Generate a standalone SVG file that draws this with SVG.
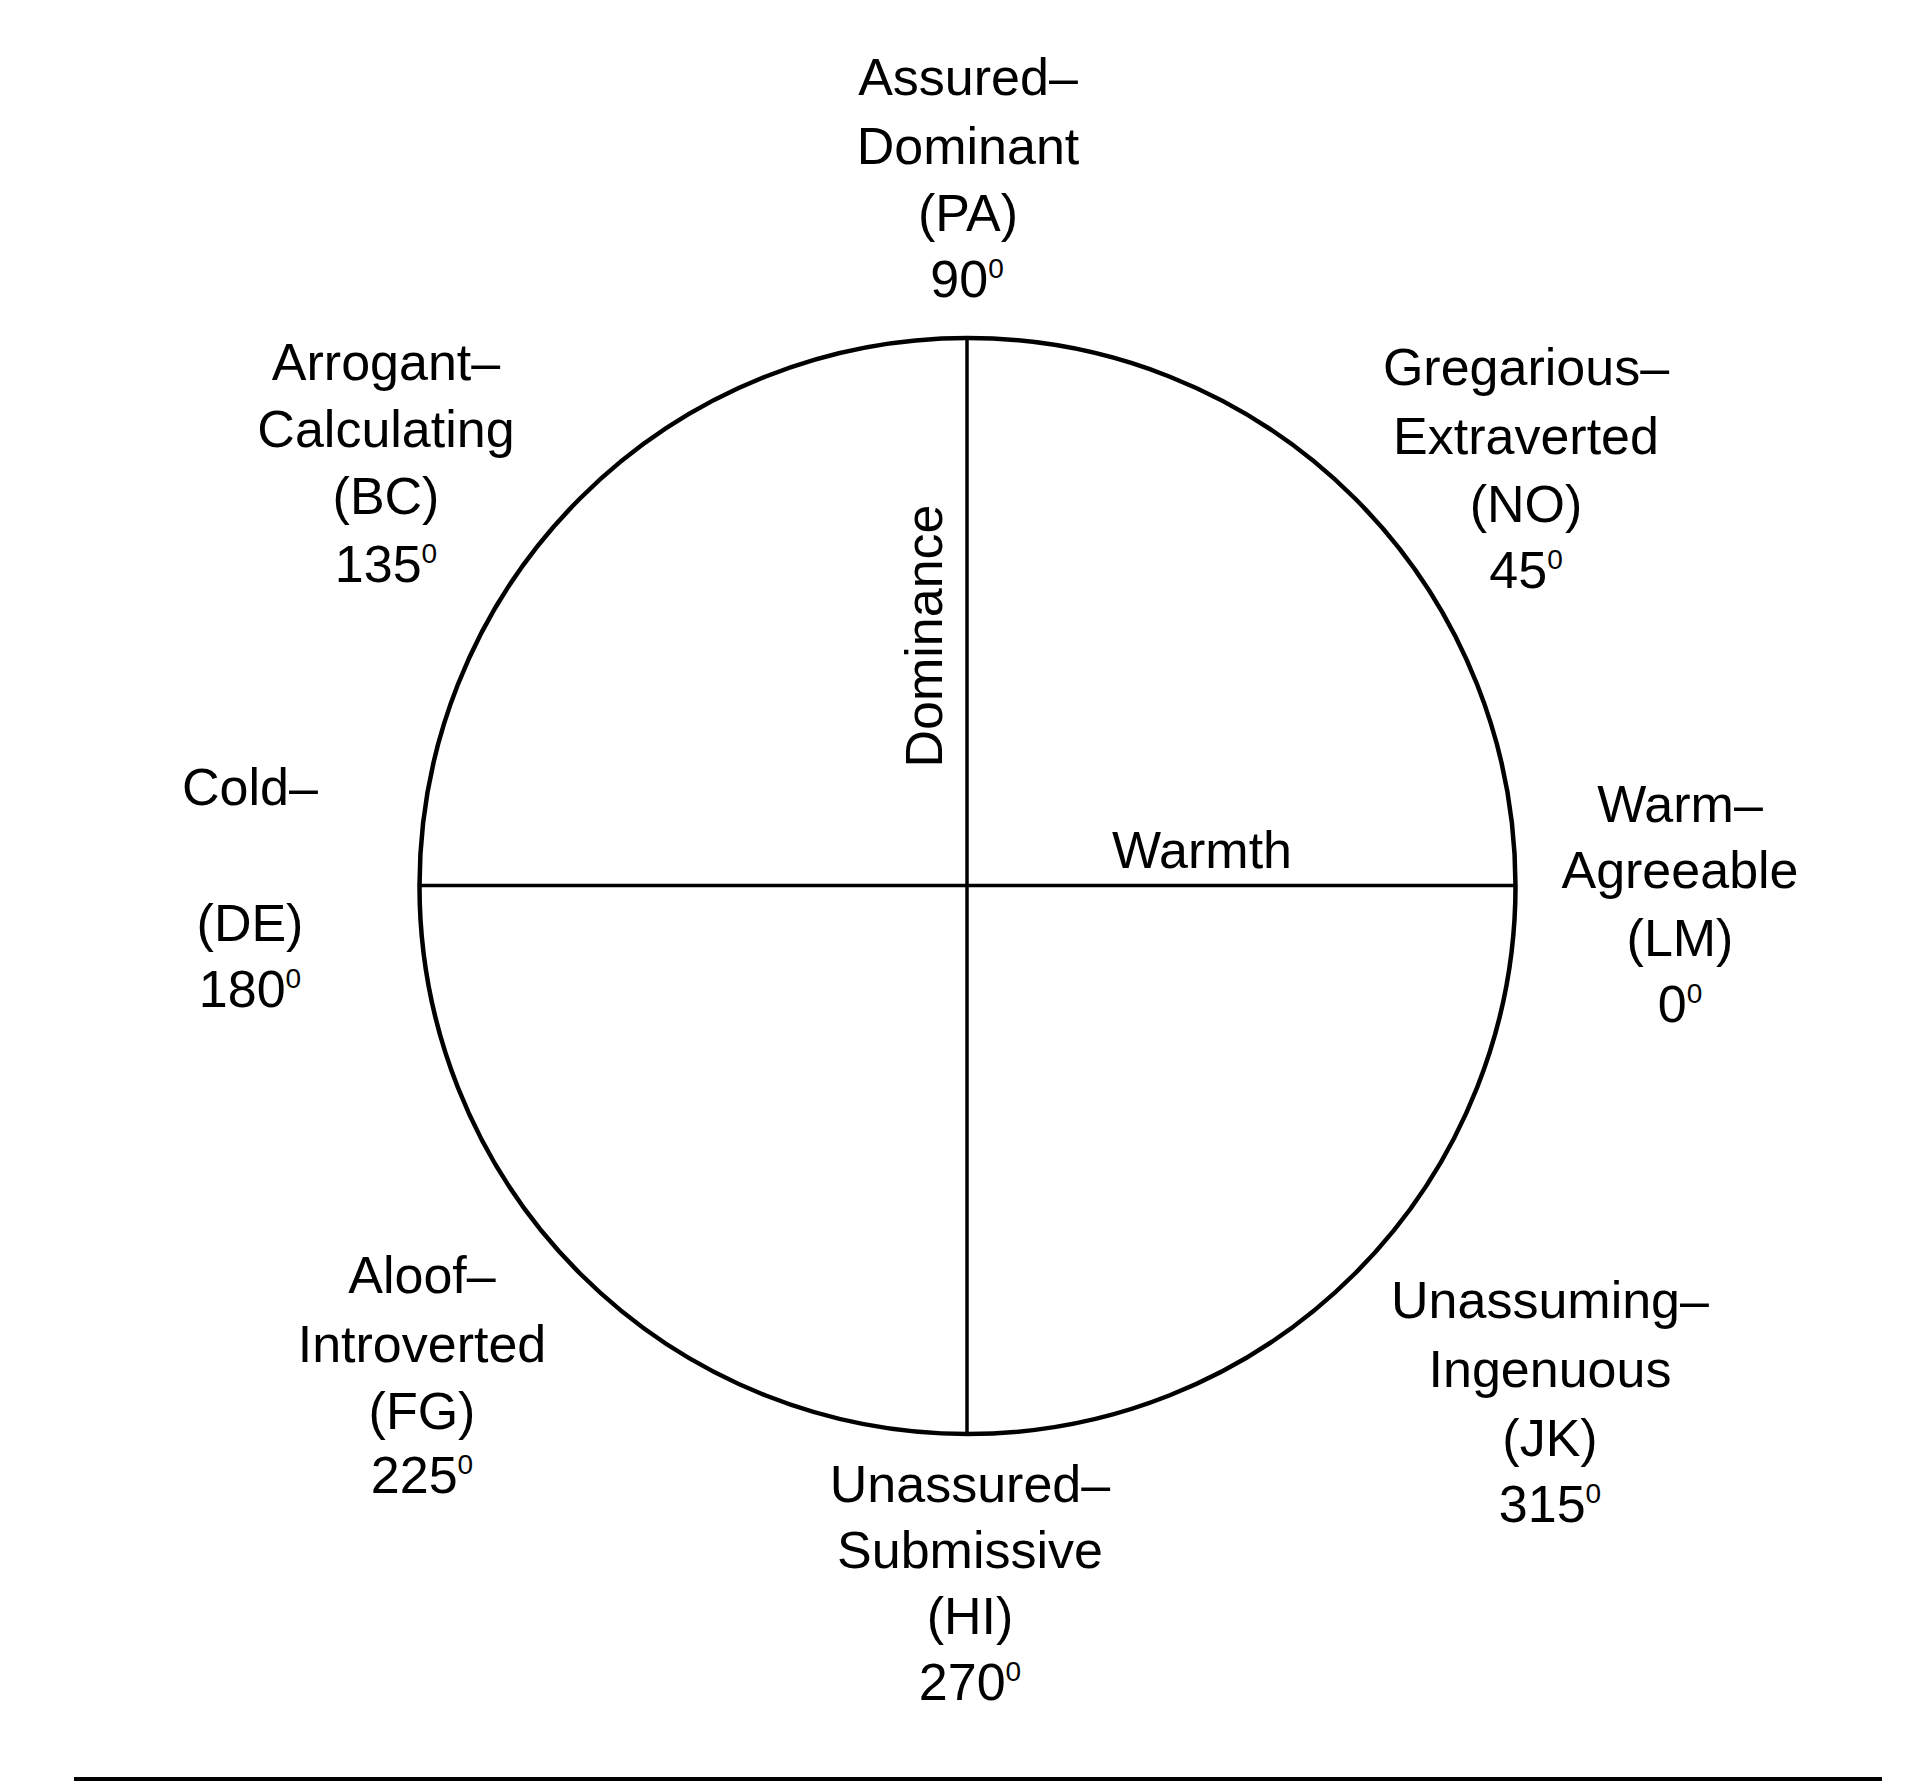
<svg xmlns="http://www.w3.org/2000/svg" width="1920" height="1785" viewBox="0 0 1920 1785">
<style>
text{font-family:"Liberation Sans",Arial,sans-serif;font-size:52px;fill:#000;text-anchor:middle}
.sup{font-size:28px}
.ln{stroke:#000;stroke-width:3.5;fill:none}
.circ{stroke:#000;stroke-width:4.5;fill:none}
</style>
<rect width="1920" height="1785" fill="#fff"/>
<g id="connectors">
<circle class="circ" cx="967.5" cy="886" r="548"/>
<line class="ln" x1="967" y1="338" x2="967" y2="1434"/>
<line class="ln" x1="419" y1="885.5" x2="1516" y2="885.5"/>
<rect x="74" y="1777" width="1808" height="4" fill="#000"/>
</g>
<g id="axis-dominance"><text transform="translate(942,636) rotate(-90)">Dominance</text></g>
<g id="axis-warmth"><text x="1202" y="868">Warmth</text></g>
<g id="node-PA">
<text x="968" y="95">Assured–</text>
<text x="968" y="164">Dominant</text>
<text x="968" y="231">(PA)</text>
<text x="967" y="297">90<tspan class="sup" dy="-19">0</tspan></text>
</g>
<g id="node-BC">
<text x="386" y="380">Arrogant–</text>
<text x="386" y="447">Calculating</text>
<text x="386" y="514">(BC)</text>
<text x="386" y="582">135<tspan class="sup" dy="-19">0</tspan></text>
</g>
<g id="node-NO">
<text x="1526" y="385">Gregarious–</text>
<text x="1526" y="454">Extraverted</text>
<text x="1526" y="522">(NO)</text>
<text x="1526" y="588">45<tspan class="sup" dy="-19">0</tspan></text>
</g>
<g id="node-DE">
<text x="250" y="805">Cold–</text>
<text x="250" y="941">(DE)</text>
<text x="250" y="1007">180<tspan class="sup" dy="-19">0</tspan></text>
</g>
<g id="node-LM">
<text x="1680" y="822">Warm–</text>
<text x="1680" y="888">Agreeable</text>
<text x="1680" y="956">(LM)</text>
<text x="1680" y="1022">0<tspan class="sup" dy="-19">0</tspan></text>
</g>
<g id="node-FG">
<text x="422" y="1293">Aloof–</text>
<text x="422" y="1362">Introverted</text>
<text x="422" y="1429">(FG)</text>
<text x="422" y="1493">225<tspan class="sup" dy="-19">0</tspan></text>
</g>
<g id="node-JK">
<text x="1550" y="1318">Unassuming–</text>
<text x="1550" y="1387">Ingenuous</text>
<text x="1550" y="1456">(JK)</text>
<text x="1550" y="1522">315<tspan class="sup" dy="-19">0</tspan></text>
</g>
<g id="node-HI">
<text x="970" y="1502">Unassured–</text>
<text x="970" y="1568">Submissive</text>
<text x="970" y="1634">(HI)</text>
<text x="970" y="1700">270<tspan class="sup" dy="-19">0</tspan></text>
</g>
</svg>
